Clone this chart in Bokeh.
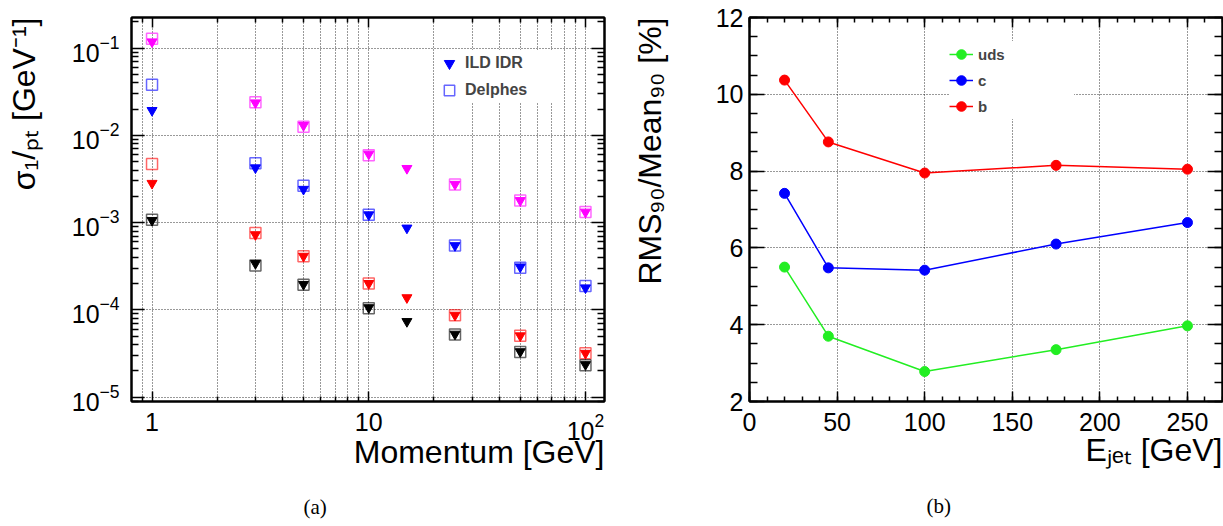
from bokeh.plotting import figure
from bokeh.models import (LogAxis, LinearAxis, FixedTicker, SingleIntervalTicker, Title,
                          Legend, LegendItem, Range1d, CustomJSTickFormatter)
from bokeh.layouts import row
from bokeh.embed import file_html
from bokeh.resources import INLINE

# ---------------- data: panel (a) ----------------
momentum_ild = [1, 3, 5, 10, 15, 25, 50, 100]
momentum_delphes = [1, 3, 5, 10, 25, 50, 100]

ild_magenta = [0.118, 0.0236, 0.0130, 0.0061, 0.00418, 0.00275, 0.00179, 0.00132]
ild_blue = [0.0193, 0.00425, 0.00241, 0.00123, 0.000867, 0.000545, 0.000311, 0.000179]
ild_red = [0.00282, 0.000728, 0.000412, 0.000201, 0.000138, 0.0000869, 0.0000505, 0.0000318]
ild_black = [0.00106, 0.00034, 0.000196, 0.000106, 0.0000736, 0.0000527, 0.0000332, 0.0000236]

delphes_magenta = [0.128, 0.0240, 0.0125, 0.0059, 0.00273, 0.00179, 0.00132]
delphes_blue = [0.0379, 0.00477, 0.00265, 0.00123, 0.000545, 0.000303, 0.000187]
delphes_red = [0.00469, 0.00076, 0.000412, 0.0002, 0.0000869, 0.0000505, 0.0000318]
delphes_black = [0.00108, 0.000323, 0.000194, 0.000104, 0.000052, 0.0000328, 0.0000232]

x_tick_labels = {1: "1", 10: "10"}
legend_a = ["ILD IDR", "Delphes"]
x_title_a = "Momentum [GeV]"
y_title_a = "σ₁/ₚₜ [GeV⁻¹]"

# ---------------- data: panel (b) ----------------
e_jet = [20, 45, 100, 175, 250]
res_uds = [5.50, 3.70, 2.78, 3.35, 3.97]
res_c = [7.42, 5.48, 5.42, 6.10, 6.66]
res_b = [10.37, 8.76, 7.95, 8.15, 8.05]
legend_b = ["uds", "c", "b"]
x_title_b = "Eⱼₑₜ [GeV]"
y_title_b = "RMS₉₀/Mean₉₀ [%]"

# ---------------- style ----------------
FONT = "Liberation Sans"
SERIF = "Liberation Serif"
TICK_FS = "25px"
TITLE_FS = "32px"
GRID_DASH = "1 2"
FW, FH = 473, 386

XA = (0.804, 122.4)
YA = (8.9e-6, 0.224)
XB = (0, 270)
YB = (2, 12)


def make_title(text, align="right", size=TITLE_FS, font=FONT, standoff=0, offset=0):
    t = Title(text=text, align=align, text_font=font, text_font_size=size,
              text_font_style="normal", text_color="black", offset=offset)
    try:
        t.standoff = standoff
    except Exception:
        t.standoff = 0
    return t


def spacer(gap):
    return make_title(" ", align="left", size="1px", standoff=gap)


def style_axis(ax, tick_in, minor_in, show_labels, standoff):
    ax.axis_line_width = 2
    ax.axis_line_color = "black"
    ax.major_tick_in = tick_in
    ax.major_tick_out = 0
    ax.minor_tick_in = minor_in
    ax.minor_tick_out = 0
    ax.major_tick_line_width = 1.5
    ax.minor_tick_line_width = 1.5
    ax.major_tick_line_color = "black"
    ax.minor_tick_line_color = "black"
    if show_labels:
        ax.major_label_text_font = FONT
        ax.major_label_text_font_size = TICK_FS
        ax.major_label_text_color = "black"
        ax.major_label_standoff = standoff
    else:
        ax.formatter = CustomJSTickFormatter(code="return ''")
        ax.major_label_text_font_size = "1px"
        ax.major_label_standoff = 0


def style_fig(p):
    p.outline_line_color = "black"
    p.outline_line_width = 2
    p.background_fill_color = "white"
    p.border_fill_color = "white"


# ================= panel (a) =================
LA_L, LA_T = 131, 15
left = figure(width=628, height=526, x_axis_type="log", y_axis_type="log",
              x_range=Range1d(*XA), y_range=Range1d(*YA),
              min_border_left=LA_L, min_border_right=24, min_border_top=LA_T,
              min_border_bottom=526 - LA_T - FH,
              output_backend="svg", toolbar_location=None)
style_fig(left)

xt = FixedTicker(ticks=[1, 10, 100],
                 minor_ticks=[0.9] + [k * 10 ** e for e in (0, 1) for k in range(2, 10)])
yt = FixedTicker(ticks=[10.0 ** e for e in range(-5, 0)],
                 minor_ticks=[k * 10.0 ** e for e in range(-6, 0) for k in range(2, 10)])

left.xaxis.ticker = xt
left.yaxis.ticker = yt
left.xaxis.major_label_overrides = x_tick_labels
style_axis(left.xaxis[0], 10, 5, True, 11)
style_axis(left.yaxis[0], 13, 7, True, 12)
top_a = LogAxis(ticker=xt)
right_a = LogAxis(ticker=yt)
style_axis(top_a, 10, 5, False, 0)
style_axis(right_a, 13, 7, False, 0)
left.add_layout(top_a, "above")
left.add_layout(right_a, "right")

left.xgrid.ticker = xt
left.ygrid.ticker = yt
for g in (left.xgrid[0], left.ygrid[0]):
    g.grid_line_color = "black"
    g.grid_line_dash = GRID_DASH
    g.grid_line_width = 1
    g.grid_line_alpha = 0.8
left.xgrid[0].minor_grid_line_color = "black"
left.xgrid[0].minor_grid_line_dash = GRID_DASH
left.xgrid[0].minor_grid_line_alpha = 0.8

series = [("#ff00ff", ild_magenta, delphes_magenta),
          ("#0000ff", ild_blue, delphes_blue),
          ("#ff0000", ild_red, delphes_red),
          ("#000000", ild_black, delphes_black)]
leg_r = {}
for col, ild, dlp in series:
    rs = left.scatter(momentum_delphes, dlp, marker="square", size=11, fill_color=None,
                      line_color=col, line_alpha=0.6, line_width=1.5)
    rt = left.scatter(momentum_ild, ild, marker="inverted_triangle", size=10,
                      fill_color=col, line_color=col)
    if col == "#0000ff":
        leg_r = {"tri": rt, "sq": rs}

leg_a = Legend(items=[LegendItem(label=legend_a[0], renderers=[leg_r["tri"]]),
                      LegendItem(label=legend_a[1], renderers=[leg_r["sq"]])],
               location=(305, 298), glyph_width=26, glyph_height=26, label_height=26,
               spacing=1, padding=2, margin=0, label_standoff=3, label_width=93,
               label_text_font=FONT, label_text_font_style="bold", label_text_font_size="16px",
               border_line_color=None, background_fill_color="white", background_fill_alpha=1)
left.add_layout(leg_a)

# side-panel titles (stacked outwards from the frame)
left.add_layout(make_title(x_title_a, standoff=-21), "below")
left.add_layout(spacer(30), "below")
left.add_layout(make_title("(a)", align="left", size="21px", font=SERIF, offset=172), "below")
left.add_layout(spacer(24), "left")
left.add_layout(make_title(y_title_a), "left")

# ================= panel (b) =================
LB_L, LB_T = 121, 17
rightp = figure(width=595, height=526, x_range=Range1d(*XB), y_range=Range1d(*YB),
                min_border_left=LB_L, min_border_right=1, min_border_top=LB_T,
                min_border_bottom=526 - LB_T - FH,
                output_backend="svg", toolbar_location=None)
style_fig(rightp)
xtb = SingleIntervalTicker(interval=50, num_minor_ticks=5)
ytb = SingleIntervalTicker(interval=2, num_minor_ticks=4)
rightp.xaxis.ticker = xtb
rightp.yaxis.ticker = ytb
style_axis(rightp.xaxis[0], 10, 5, True, 11)
style_axis(rightp.yaxis[0], 15, 8, True, 6)
top_b = LinearAxis(ticker=xtb)
right_b = LinearAxis(ticker=ytb)
style_axis(top_b, 10, 5, False, 0)
style_axis(right_b, 15, 8, False, 0)
rightp.add_layout(top_b, "above")
rightp.add_layout(right_b, "right")
rightp.xgrid.ticker = xtb
rightp.ygrid.ticker = ytb
for g in (rightp.xgrid[0], rightp.ygrid[0]):
    g.grid_line_color = "black"
    g.grid_line_dash = GRID_DASH
    g.grid_line_width = 1
    g.grid_line_alpha = 0.8

items_b = []
for name, col, vals in zip(legend_b, ["#22ee22", "#0000ff", "#ff0000"], [res_uds, res_c, res_b]):
    rl = rightp.line(e_jet, vals, line_color=col, line_width=1.5)
    rc = rightp.scatter(e_jet, vals, marker="circle", size=10, fill_color=col, line_color=col)
    items_b.append(LegendItem(label=name, renderers=[rl, rc]))

leg_b = Legend(items=items_b, location=(200, 282), glyph_width=24, glyph_height=26,
               label_height=26, spacing=0, padding=10, margin=0, label_standoff=5, label_width=96,
               label_text_font=FONT, label_text_font_style="bold", label_text_font_size="15px",
               border_line_color=None, background_fill_color="white", background_fill_alpha=1)
rightp.add_layout(leg_b)

rightp.add_layout(make_title(x_title_b, standoff=-7), "below")
rightp.add_layout(spacer(24), "below")
rightp.add_layout(make_title("(b)", align="left", size="21px", font=SERIF, offset=177), "below")
rightp.add_layout(spacer(42), "left")
rightp.add_layout(make_title(y_title_b), "left")

layout = row(left, rightp, spacing=0)
open("out.html", "w").write(file_html(layout, INLINE))
